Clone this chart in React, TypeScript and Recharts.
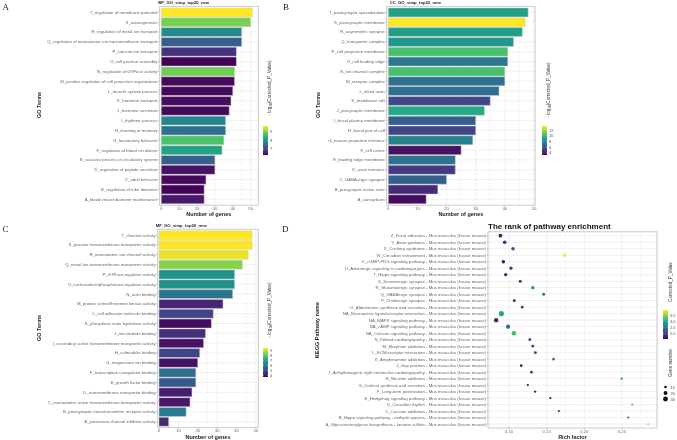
import React from "react";
import { BarChart, Bar, XAxis, YAxis, CartesianGrid, Cell, ScatterChart, Scatter, ZAxis } from "recharts";

const FONT = '"Liberation Sans", Arial, Helvetica, sans-serif';
const GRID = "#ebebeb";
const BORDER = "#c4c4c4";
const TICK_TEXT = "#6e6e6e";

const VIRIDIS = ["#440154", "#482475", "#414487", "#355f8d", "#2a788e", "#21918c", "#22a884", "#44bf70", "#7ad151", "#bddf26", "#fde725"];

// ---- BP ----
const bpTerms = [
  "T_regulation of membrane potential",
  "S_axonogenesis",
  "R_regulation of metal ion transport",
  "Q_regulation of monoatomic ion transmembrane transport",
  "P_calcium ion transport",
  "O_cell junction assembly",
  "N_regulation of GTPase activity",
  "M_positive regulation of cell projection organization",
  "L_muscle system process",
  "K_hormone transport",
  "J_hormone secretion",
  "I_rhythmic process",
  "H_learning or memory",
  "G_locomotory behavior",
  "F_regulation of blood circulation",
  "E_vascular process in circulatory system",
  "D_regulation of peptide secretion",
  "C_adult behavior",
  "B_regulation of tube diameter",
  "A_blood vessel diameter maintenance",
];
const bpGenes = [51, 50, 45, 45, 42, 42, 41, 41, 40, 39, 38, 36, 36, 35, 34, 30, 30, 25, 24, 24];
const bpLogP = [9.56, 8.9, 7.85, 7.3, 6.8, 6.35, 8.85, 6.4, 6.4, 6.45, 6.4, 7.8, 7.53, 8.65, 8.2, 7.3, 6.5, 6.4, 6.35, 6.55];
const bpRange: [number, number] = [6.33, 9.56];
const bpLegendTicks = [7, 8, 9];

// ---- CC ----
const ccTerms = [
  "T_postsynaptic specialization",
  "S_postsynaptic membrane",
  "R_asymmetric synapse",
  "Q_transporter complex",
  "P_cell projection membrane",
  "O_cell leading edge",
  "N_ion channel complex",
  "M_receptor complex",
  "L_distal axon",
  "K_membrane raft",
  "J_presynaptic membrane",
  "I_basal plasma membrane",
  "H_basal part of cell",
  "G_neuron projection terminus",
  "F_cell cortex",
  "E_leading edge membrane",
  "D_axon terminus",
  "C_GABA-ergic synapse",
  "B_presynaptic active zone",
  "A_sarcoplasm",
];
const ccGenes = [48, 47, 46, 43, 41, 41, 40, 40, 38, 35, 33, 30, 30, 29, 25, 23, 23, 20, 17, 13];
const ccLogP = [9.06, 13.4, 8.9, 8.6, 10.4, 7.3, 10.4, 7.1, 7.0, 5.5, 9.4, 6.3, 5.3, 7.8, 3.8, 7.1, 5.0, 6.3, 4.5, 3.6];
const ccRange: [number, number] = [3.3, 13.4];
const ccLegendTicks = [4, 6, 8, 10, 12];

// ---- MF ----
const mfTerms = [
  "T_channel activity",
  "S_passive transmembrane transporter activity",
  "R_monoatomic ion channel activity",
  "Q_metal ion transmembrane transporter activity",
  "P_GTPase regulator activity",
  "O_nucleoside-triphosphatase regulator activity",
  "N_actin binding",
  "M_protein serine/threonine kinase activity",
  "L_cell adhesion molecule binding",
  "K_phosphoric ester hydrolase activity",
  "J_microtubule binding",
  "I_secondary active transmembrane transporter activity",
  "H_calmodulin binding",
  "G_magnesium ion binding",
  "F_transcription coregulator binding",
  "E_growth factor binding",
  "D_transmembrane transporter binding",
  "C_monoatomic anion transmembrane transporter activity",
  "B_postsynaptic neurotransmitter receptor activity",
  "A_potassium channel inhibitor activity",
];
const mfGenes = [48, 48, 46, 43, 39, 39, 38, 33, 28, 27, 24, 23, 21, 20, 19, 19, 17, 16, 14, 5];
const mfLogP = [9.6, 9.6, 9.4, 8.5, 6.6, 6.6, 5.9, 4.2, 4.8, 3.8, 4.4, 3.9, 4.8, 3.9, 5.8, 5.3, 4.1, 4.0, 6.1, 4.3];
const mfRange: [number, number] = [3.6, 9.6];
const mfLegendTicks = [4, 5, 6, 7, 8, 9];

const geneTicks = [0, 10, 20, 30, 40, 50];
const geneMinorTicks = [5, 15, 25, 35, 45];

// ---- KEGG ----
const MM = " - Mus musculus (house mouse)";
const keggNames = [
  "Z_Focal adhesion",
  "Y_Axon guidance",
  "X_Cushing syndrome",
  "W_Circadian entrainment",
  "V_cGMP-PKG signaling pathway",
  "U_Adrenergic signaling in cardiomyocytes",
  "T_Hippo signaling pathway",
  "S_Serotonergic synapse",
  "R_Glutamatergic synapse",
  "Q_GABAergic synapse",
  "P_Cholinergic synapse",
  "O_Aldosterone synthesis and secretion",
  "NA_Neuroactive ligand-receptor interaction",
  "NA_MAPK signaling pathway",
  "NA_cAMP signaling pathway",
  "NA_Calcium signaling pathway",
  "N_Dilated cardiomyopathy",
  "M_Morphine addiction",
  "L_ECM-receptor interaction",
  "K_Amphetamine addiction",
  "J_Gap junction",
  "I_Arrhythmogenic right ventricular cardiomyopathy",
  "H_Nicotine addiction",
  "G_Cortisol synthesis and secretion",
  "F_Long-term potentiation",
  "E_Hedgehog signaling pathway",
  "D_Circadian rhythm",
  "C_Cocaine addiction",
  "B_Hippo signaling pathway - multiple species",
  "A_Glycosaminoglycan biosynthesis - keratan sulfate",
];
const keggRich = [0.0886, 0.0943, 0.1053, 0.1737, 0.0925, 0.1026, 0.0956, 0.1149, 0.1316, 0.146, 0.107, 0.1175, 0.0899, 0.0829, 0.0987, 0.1066, 0.1276, 0.1316, 0.135, 0.1592, 0.1162, 0.1298, 0.2496, 0.125, 0.1346, 0.1548, 0.2636, 0.1662, 0.2583, 0.2846];
const keggGenes = [18, 17, 17, 17, 16, 15, 15, 13, 15, 13, 12, 12, 32, 25, 22, 26, 12, 12, 12, 11, 10, 10, 10, 8, 9, 9, 8, 8, 8, 4];
const keggP = [1.72, 1.88, 2.18, 3.9, 1.74, 1.95, 1.88, 2.0, 2.68, 2.57, 1.78, 1.88, 2.98, 1.88, 2.4, 3.2, 2.06, 2.0, 2.06, 2.57, 1.72, 1.83, 3.26, 1.72, 1.88, 2.06, 3.33, 1.95, 2.63, 2.3];
const keggRange: [number, number] = [1.6, 3.9];
const keggLegendTicks = [2.0, 2.5, 3.0, 3.5];
const richTicks = [0.1, 0.15, 0.2, 0.25];
const richMinorTicks = [0.075, 0.125, 0.175, 0.225, 0.275];
const sizeLegend = [10, 20, 30];
const GENE_DOMAIN: [number, number] = [2.2, 40];
const AREA_RANGE: [number, number] = [0, 25.7];

function hexToRgb(h: string) {
  return [parseInt(h.slice(1, 3), 16), parseInt(h.slice(3, 5), 16), parseInt(h.slice(5, 7), 16)];
}

function viridis(t: number): string {
  const c = Math.max(0, Math.min(1, t)) * (VIRIDIS.length - 1);
  const i = Math.min(Math.floor(c), VIRIDIS.length - 2);
  const f = c - i;
  const a = hexToRgb(VIRIDIS[i]);
  const b = hexToRgb(VIRIDIS[i + 1]);
  const m = a.map((v, k) => Math.round(v + (b[k] - v) * f));
  return `rgb(${m[0]},${m[1]},${m[2]})`;
}

const colorFor = (v: number, r: [number, number]) => viridis((v - r[0]) / (r[1] - r[0]));

interface Box {
  left: number;
  top: number;
  plotLeft: number;
  plotRight: number;
  plotTop: number;
  plotBottom: number;
}

const boxA: Box = { left: 0, top: 0, plotLeft: 159.3, plotRight: 258.3, plotTop: 6.4, plotBottom: 205.2 };
const boxB: Box = { left: 290, top: 0, plotLeft: 386.7, plotRight: 535, plotTop: 6.4, plotBottom: 205.2 };
const boxC: Box = { left: 0, top: 220, plotLeft: 157.7, plotRight: 258.3, plotTop: 229.2, plotBottom: 427.6 };
const boxD: Box = { left: 300, top: 220, plotLeft: 488, plotRight: 657, plotTop: 231.8, plotBottom: 428 };

const tickText = { fontSize: 4.3, fill: TICK_TEXT, fontFamily: FONT };

// plain one-line tick label (Recharts' own Text would wrap long terms)
const TermTick = (props: any) => {
  const { x, y, payload } = props;
  return (
    <text x={x} y={y} textAnchor="end" dominantBaseline="central" fontSize={4.3} fill="#666" fontFamily={FONT}>
      {payload.value}
    </text>
  );
};

interface GoProps {
  terms: string[];
  genes: number[];
  logP: number[];
  range: [number, number];
  box: Box;
  xDomain: [number, number];
}

const GoPanel: React.FC<GoProps> = ({ terms, genes, logP, range, box, xDomain }) => {
  const rows = terms.map((t, i) => ({ term: t, genes: genes[i], logP: logP[i] }));
  const W = box.plotRight - box.left + 2;
  const H = box.plotBottom - box.top + 10;
  return (
    <div style={{ position: "absolute", left: box.left, top: box.top }}>
      <BarChart
        width={W}
        height={H}
        data={rows}
        layout="vertical"
        margin={{ top: box.plotTop - box.top, right: 2, bottom: 0, left: 0 }}
        barCategoryGap="5%"
      >
        <CartesianGrid stroke={GRID} strokeWidth={0.4} xAxisId="minor" horizontal={false} />
        <CartesianGrid stroke={GRID} strokeWidth={0.7} />
        <XAxis
          type="number"
          dataKey="genes"
          domain={xDomain}
          ticks={geneTicks}
          allowDataOverflow
          height={H - (box.plotBottom - box.top)}
          axisLine={false}
          tickLine={{ stroke: "#888", strokeWidth: 0.5 }}
          tickSize={1.5}
          tickMargin={0.3}
          tick={tickText}
        />
        <XAxis xAxisId="minor" type="number" domain={xDomain} ticks={geneMinorTicks} allowDataOverflow hide />
        <YAxis
          type="category"
          dataKey="term"
          width={box.plotLeft - box.left}
          interval={0}
          padding={{ top: 1, bottom: 1 }}
          axisLine={false}
          tickLine={{ stroke: "#888", strokeWidth: 0.5 }}
          tickSize={1.5}
          tickMargin={0.5}
          tick={<TermTick />}
        />
        <Bar dataKey="genes" isAnimationActive={false} stroke="#d6d6d6" strokeWidth={0.5}>
          {rows.map((r, i) => (
            <Cell key={i} fill={colorFor(r.logP, range)} />
          ))}
        </Bar>
      </BarChart>
    </div>
  );
};

const KeggPanel: React.FC = () => {
  const box = boxD;
  const rows = keggNames.map((n, i) => ({ name: n + MM, rich: keggRich[i], genes: keggGenes[i], p: keggP[i] }));
  const W = box.plotRight - box.left + 2;
  const H = box.plotBottom - box.top + 10;
  const xDomain: [number, number] = [0.0721, 0.2965];
  return (
    <div style={{ position: "absolute", left: box.left, top: box.top }}>
      <ScatterChart width={W} height={H} margin={{ top: box.plotTop - box.top, right: 2, bottom: 0, left: 0 }}>
        <CartesianGrid stroke={GRID} strokeWidth={0.4} xAxisId="minor" horizontal={false} />
        <CartesianGrid stroke={GRID} strokeWidth={0.7} />
        <XAxis
          type="number"
          dataKey="rich"
          domain={xDomain}
          ticks={richTicks}
          allowDataOverflow
          tickFormatter={(v: number) => v.toFixed(2)}
          height={H - (box.plotBottom - box.top)}
          axisLine={false}
          tickLine={{ stroke: "#888", strokeWidth: 0.5 }}
          tickSize={1.5}
          tickMargin={0.3}
          tick={tickText}
        />
        <XAxis xAxisId="minor" type="number" dataKey="rich" domain={xDomain} ticks={richMinorTicks} allowDataOverflow hide />
        <YAxis
          type="category"
          dataKey="name"
          reversed
          width={box.plotLeft - box.left}
          interval={0}
          padding={{ top: 0.65, bottom: 0.65 }}
          axisLine={false}
          tickLine={{ stroke: "#888", strokeWidth: 0.5 }}
          tickSize={1.5}
          tickMargin={0.5}
          tick={<TermTick />}
        />
        <ZAxis type="number" dataKey="genes" domain={GENE_DOMAIN} range={AREA_RANGE} />
        <Scatter data={rows} isAnimationActive={false}>
          {rows.map((r, i) => (
            <Cell key={i} fill={colorFor(r.p, keggRange)} />
          ))}
        </Scatter>
      </ScatterChart>
    </div>
  );
};

interface BarLegendProps {
  id: string;
  x: number;
  y: number;
  h: number;
  range: [number, number];
  ticks: number[];
  fmt?: (v: number) => string;
}

const ColorBar: React.FC<BarLegendProps> = ({ id, x, y, h, range, ticks, fmt }) => {
  const w = 5;
  const pos = (v: number) => y + ((range[1] - v) / (range[1] - range[0])) * h;
  return (
    <g>
      <defs>
        <linearGradient id={id} x1="0" y1="1" x2="0" y2="0">
          {VIRIDIS.map((c, i) => (
            <stop key={i} offset={`${(i / (VIRIDIS.length - 1)) * 100}%`} stopColor={c} />
          ))}
        </linearGradient>
      </defs>
      <rect x={x} y={y} width={w} height={h} fill={`url(#${id})`} />
      {ticks.map((t) => (
        <g key={t}>
          <line x1={x} x2={x + 1} y1={pos(t)} y2={pos(t)} stroke="#fff" strokeWidth={0.4} />
          <line x1={x + w - 1} x2={x + w} y1={pos(t)} y2={pos(t)} stroke="#fff" strokeWidth={0.4} />
          <text x={x + w + 2} y={pos(t)} fontSize={4} fill="#555" dominantBaseline="central" fontFamily={FONT}>
            {fmt ? fmt(t) : String(t)}
          </text>
        </g>
      ))}
    </g>
  );
};

const LogTitle: React.FC<{ x: number; y: number }> = ({ x, y }) => (
  <text x={x} y={y} transform={`rotate(-90 ${x} ${y})`} textAnchor="middle" fontSize={4.6} fill="#333" fontFamily={FONT}>
    - log
    <tspan fontSize={3.2} dy={1}>10</tspan>
    <tspan dy={-1}>(Corrected_P_Value)</tspan>
  </text>
);

const frame = (b: Box) => (
  <rect x={b.plotLeft} y={b.plotTop} width={b.plotRight - b.plotLeft} height={b.plotBottom - b.plotTop} fill="none" stroke={BORDER} strokeWidth={0.7} />
);

const geneRadius = (g: number) => {
  const area = ((g - GENE_DOMAIN[0]) / (GENE_DOMAIN[1] - GENE_DOMAIN[0])) * (AREA_RANGE[1] - AREA_RANGE[0]) + AREA_RANGE[0];
  return Math.sqrt(Math.max(area, 0) / Math.PI);
};

const SERIF = '"Liberation Serif", "Times New Roman", serif';

const Overlay: React.FC = () => (
  <svg width={677} height={440} style={{ position: "absolute", left: 0, top: 0, pointerEvents: "none" }}>
    {frame(boxA)}
    {frame(boxB)}
    {frame(boxC)}
    {frame(boxD)}

    <text x={2.5} y={9.5} fontSize={9} fontFamily={SERIF} fill="#222">A</text>
    <text x={283} y={9.5} fontSize={9} fontFamily={SERIF} fill="#222">B</text>
    <text x={2.5} y={231.5} fontSize={9} fontFamily={SERIF} fill="#222">C</text>
    <text x={282} y={231.5} fontSize={9} fontFamily={SERIF} fill="#222">D</text>

    <text x={boxA.plotLeft - 1} y={4} fontSize={4.2} fontWeight="bold" fill="#222" fontFamily={FONT}>BP_GO_simp_top20_new</text>
    <text x={boxB.plotLeft + 3} y={4} fontSize={4.2} fontWeight="bold" fill="#222" fontFamily={FONT}>CC_GO_simp_top20_new</text>
    <text x={boxC.plotLeft - 2} y={226.5} fontSize={4.2} fontWeight="bold" fill="#222" fontFamily={FONT}>MF_GO_simp_top20_new</text>
    <text x={boxD.plotLeft} y={229.3} fontSize={8} fontWeight="bold" fill="#111" fontFamily={FONT}>The rank of pathway enrichment</text>

    <text x={(boxA.plotLeft + boxA.plotRight) / 2} y={216} textAnchor="middle" fontSize={5.5} fontWeight="bold" fill="#222" fontFamily={FONT}>Number of genes</text>
    <text x={(boxB.plotLeft + boxB.plotRight) / 2} y={216} textAnchor="middle" fontSize={5.5} fontWeight="bold" fill="#222" fontFamily={FONT}>Number of genes</text>
    <text x={(boxC.plotLeft + boxC.plotRight) / 2} y={439} textAnchor="middle" fontSize={5.5} fontWeight="bold" fill="#222" fontFamily={FONT}>Number of genes</text>
    <text x={(boxD.plotLeft + boxD.plotRight) / 2} y={439} textAnchor="middle" fontSize={5.5} fontWeight="bold" fill="#222" fontFamily={FONT}>Rich factor</text>

    <text x={40.5} y={105} transform="rotate(-90 40.5 105)" textAnchor="middle" fontSize={5.5} fontWeight="bold" fill="#222" fontFamily={FONT}>GO Terms</text>
    <text x={320} y={105} transform="rotate(-90 320 105)" textAnchor="middle" fontSize={5.5} fontWeight="bold" fill="#222" fontFamily={FONT}>GO Terms</text>
    <text x={40.5} y={328} transform="rotate(-90 40.5 328)" textAnchor="middle" fontSize={5.5} fontWeight="bold" fill="#222" fontFamily={FONT}>GO Terms</text>
    <text x={319} y={330} transform="rotate(-90 319 330)" textAnchor="middle" fontSize={5.5} fontWeight="bold" fill="#222" fontFamily={FONT}>KEGG Pathway name</text>

    <LogTitle x={271} y={88} />
    <ColorBar id="cbA" x={263} y={126} h={29} range={bpRange} ticks={bpLegendTicks} />
    <LogTitle x={550} y={90} />
    <ColorBar id="cbB" x={542} y={126} h={29} range={ccRange} ticks={ccLegendTicks} />
    <LogTitle x={271} y={310} />
    <ColorBar id="cbC" x={263} y={348} h={29} range={mfRange} ticks={mfLegendTicks} />

    <text x={671.5} y={282} transform="rotate(-90 671.5 282)" textAnchor="middle" fontSize={4.6} fill="#333" fontFamily={FONT}>Corrected_P_Value</text>
    <ColorBar id="cbD" x={663} y={310} h={29} range={keggRange} ticks={keggLegendTicks} fmt={(v) => v.toFixed(1)} />
    <text x={671.5} y={363} transform="rotate(-90 671.5 363)" textAnchor="middle" fontSize={4.6} fill="#333" fontFamily={FONT}>Gene number</text>
    {sizeLegend.map((g, i) => (
      <g key={g}>
        <circle cx={665.5} cy={387 + i * 6} r={geneRadius(g)} fill="#111" />
        <text x={670.5} y={387 + i * 6} fontSize={4} fill="#555" dominantBaseline="central" fontFamily={FONT}>{g}</text>
      </g>
    ))}
  </svg>
);

// the root gets its own layer so tiny labels use grey, not colour-fringed, antialiasing
const App: React.FC = () => (
  <div
    style={{
      position: "fixed",
      left: 0,
      top: 0,
      width: 677,
      height: 440,
      background: "#fff",
      overflow: "hidden",
      fontFamily: FONT,
      willChange: "transform",
      opacity: 0.999,
    }}
  >
    <GoPanel terms={bpTerms} genes={bpGenes} logP={bpLogP} range={bpRange} box={boxA} xDomain={[-1.1, 54.25]} />
    <GoPanel terms={ccTerms} genes={ccGenes} logP={ccLogP} range={ccRange} box={boxB} xDomain={[-0.55, 50.35]} />
    <GoPanel terms={mfTerms} genes={mfGenes} logP={mfLogP} range={mfRange} box={boxC} xDomain={[-0.67, 51.2]} />
    <KeggPanel />
    <Overlay />
  </div>
);

export default App;
